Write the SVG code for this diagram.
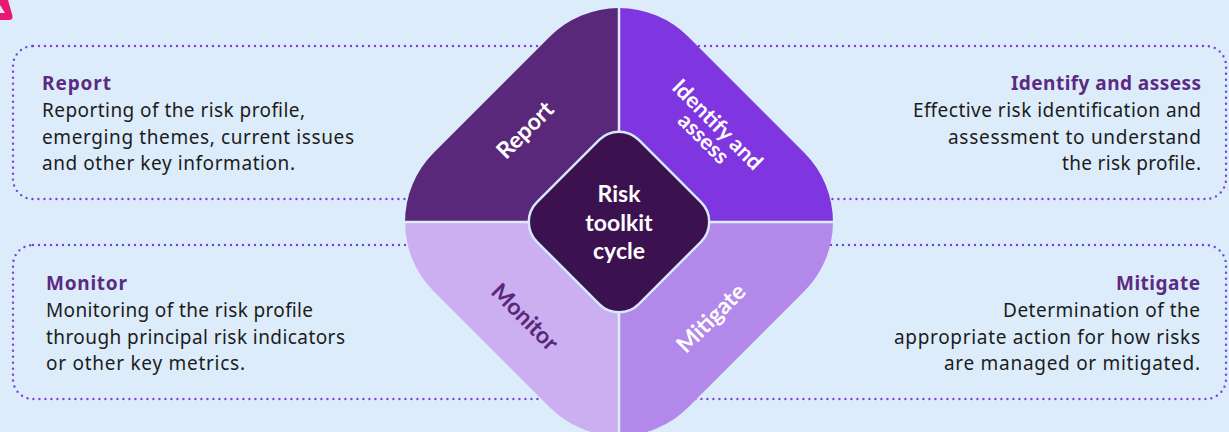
<svg xmlns="http://www.w3.org/2000/svg" width="1229" height="432" viewBox="0 0 1229 432">
<style>
.box{fill:none;stroke:#7b3fe2;stroke-width:2.4;stroke-dasharray:0 6;stroke-linecap:round}
.title{font-family:"Noto Sans","Liberation Sans",sans-serif;font-weight:bold;font-size:19px;fill:#5b2a82}
.body{font-family:"Noto Sans","Liberation Sans",sans-serif;font-size:19px;fill:#1c1c1c}
.lbl{font-family:Lato,"Liberation Sans",sans-serif;font-weight:bold;font-size:23px;fill:#ffffff;text-anchor:middle}
.div{stroke:#dcecfa;stroke-width:2.5}
</style>
<defs>
<clipPath id="outer"><rect x="439" y="42" width="360" height="360" rx="98" transform="rotate(45 619 222)"/></clipPath>
</defs>
<rect width="1229" height="432" fill="#dcecfa"/>
<path d="M0,0 L8,0 L12.5,16 Q13,20 9,20 L0,20 Z M0,5 L0,13 L5,13 Z" fill="#e8196e" fill-rule="evenodd"/>

<g id="report-box">
<rect class="box" x="13" y="46" width="606" height="153" rx="20"/>
<text class="title" x="42" y="90" textLength="69">Report</text>
<text class="body" x="42" y="117" textLength="263">Reporting of the risk profile,</text>
<text class="body" x="42" y="143.5" textLength="312">emerging themes, current issues</text>
<text class="body" x="42" y="170" textLength="253">and other key information.</text>
</g>
<g id="identify-box">
<rect class="box" x="619" y="46" width="607" height="153" rx="20"/>
<g style="text-anchor:end">
<text class="title" x="1201" y="90" textLength="190">Identify and assess</text>
<text class="body" x="1201" y="117" textLength="288">Effective risk identification and</text>
<text class="body" x="1201" y="143.5" textLength="253">assessment to understand</text>
<text class="body" x="1201" y="170" textLength="139">the risk profile.</text>
</g>
</g>
<g id="monitor-box">
<rect class="box" x="13" y="245" width="606" height="154" rx="20"/>
<text class="title" x="46" y="290" textLength="81">Monitor</text>
<text class="body" x="46" y="317" textLength="267">Monitoring of the risk profile</text>
<text class="body" x="46" y="343.5" textLength="299">through principal risk indicators</text>
<text class="body" x="46" y="370" textLength="199">or other key metrics.</text>
</g>
<g id="mitigate-box">
<rect class="box" x="619" y="245" width="607" height="154" rx="20"/>
<g style="text-anchor:end">
<text class="title" x="1200" y="290" textLength="84">Mitigate</text>
<text class="body" x="1200" y="317" textLength="197">Determination of the</text>
<text class="body" x="1200" y="343.5" textLength="306">appropriate action for how risks</text>
<text class="body" x="1200" y="370" textLength="256">are managed or mitigated.</text>
</g>
</g>

<g id="cycle">
<g clip-path="url(#outer)">
<rect id="q-report" x="380" y="0" width="239" height="222" fill="#5a287a"/>
<rect id="q-identify" x="619" y="0" width="240" height="222" fill="#7f35df"/>
<rect id="q-monitor" x="380" y="222" width="239" height="220" fill="#cbaff1"/>
<rect id="q-mitigate" x="619" y="222" width="240" height="220" fill="#b288ea"/>
<line class="div" x1="619" y1="0" x2="619" y2="440"/>
<line class="div" x1="380" y1="222" x2="860" y2="222"/>
</g>
<g transform="translate(525 130) rotate(-45)"><text class="lbl" x="0" y="8">Report</text></g>
<g transform="translate(710 132) rotate(45)"><text class="lbl" x="0" y="-3" style="font-size:22px">Identify and</text><text class="lbl" x="0" y="16.5" style="font-size:22px">assess</text></g>
<g transform="translate(525 317) rotate(45)"><text class="lbl" x="0" y="8" style="fill:#5a287a">Monitor</text></g>
<g transform="translate(711 318) rotate(-45)"><text class="lbl" x="0" y="8">Mitigate</text></g>
</g>

<g id="center">
<rect x="547" y="150" width="144" height="144" rx="28" transform="rotate(45 619 222)" fill="#3c1150" stroke="#d6e9f8" stroke-width="2.5"/>
<text class="lbl" x="619" y="202">Risk</text>
<text class="lbl" x="619" y="231">toolkit</text>
<text class="lbl" x="619" y="259">cycle</text>
</g>
<g id="connectors"/>
</svg>
